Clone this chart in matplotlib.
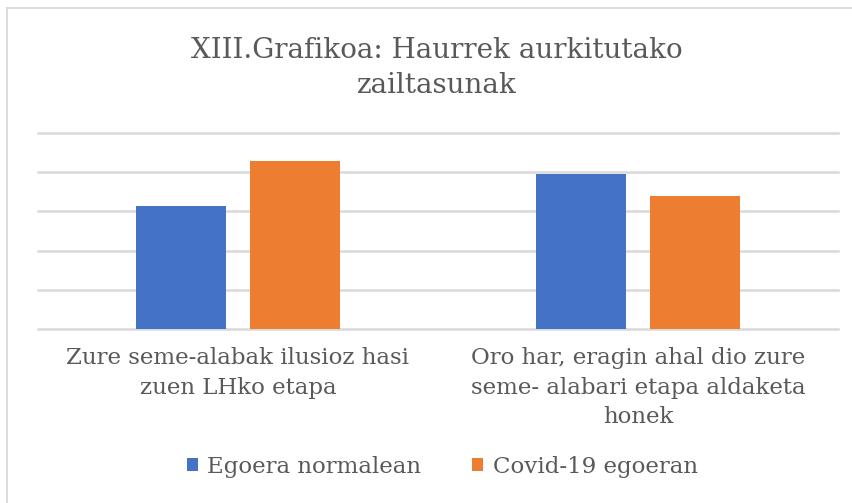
import numpy as np
import matplotlib.pyplot as plt
from matplotlib.lines import Line2D

# data
categories = ["Zure seme-alabak ilusioz hasi\nzuen LHko etapa",
              "Oro har, eragin ahal dio zure\nseme- alabari etapa aldaketa\nhonek"]
series_names = ["Egoera normalean", "Covid-19 egoeran"]
normal_vals = [3.13, 3.96]
covid_vals = [4.28, 3.39]
colors = ["#4472c4", "#ed7d31"]

plt.rcParams['font.family'] = ['DejaVu Serif Condensed', 'DejaVu Serif']
text_col = "#595959"
grid_col = "#d9d9d9"

fig = plt.figure(figsize=(8.52, 5.03), dpi=100)
# chart frame (only top and left edges are visible)
fx, fy = 7 / 852, 1 - 8 / 503
fig.lines.append(Line2D([fx, 1.0], [fy, fy], transform=fig.transFigure, color=grid_col, lw=1.3))
fig.lines.append(Line2D([fx, fx], [0, fy], transform=fig.transFigure, color=grid_col, lw=1.3))

ax = fig.add_axes([38 / 852, 174 / 503, 800 / 852, 196 / 503])
x = np.arange(len(categories))
w = 0.225
off = 0.1425
ax.bar(x - off, normal_vals, w, color=colors[0], label=series_names[0], zorder=3)
ax.bar(x + off, covid_vals, w, color=colors[1], label=series_names[1], zorder=3)

ax.set_xlim(-0.5, 1.5)
ax.set_ylim(0, 5)
ax.set_yticks(range(6))
ax.yaxis.grid(True, color=grid_col, lw=1.8, zorder=0)
for gl in ax.get_ygridlines():
    gl.set_clip_on(False)
ax.tick_params(axis='y', length=0, labelleft=False)
ax.set_xticks(x)
ax.set_xticklabels(categories, fontsize=16.5, color=text_col, linespacing=1.45)
ax.tick_params(axis='x', length=0, pad=13)
for s in ax.spines.values():
    s.set_visible(False)

fig.text(0.513, 1 - 68 / 503, "XIII.Grafikoa: Haurrek aurkitutako\nzailtasunak", ha='center', va='center',
         fontsize=20, color=text_col, linespacing=1.4)

fig.legend(loc='center', bbox_to_anchor=(0.519, 1 - 467 / 503), ncol=2, frameon=False,
           fontsize=16.5, labelcolor=text_col, handlelength=0.5, handleheight=0.5,
           handletextpad=0.4, columnspacing=2.2)

fig.savefig("out.png", dpi=100)
